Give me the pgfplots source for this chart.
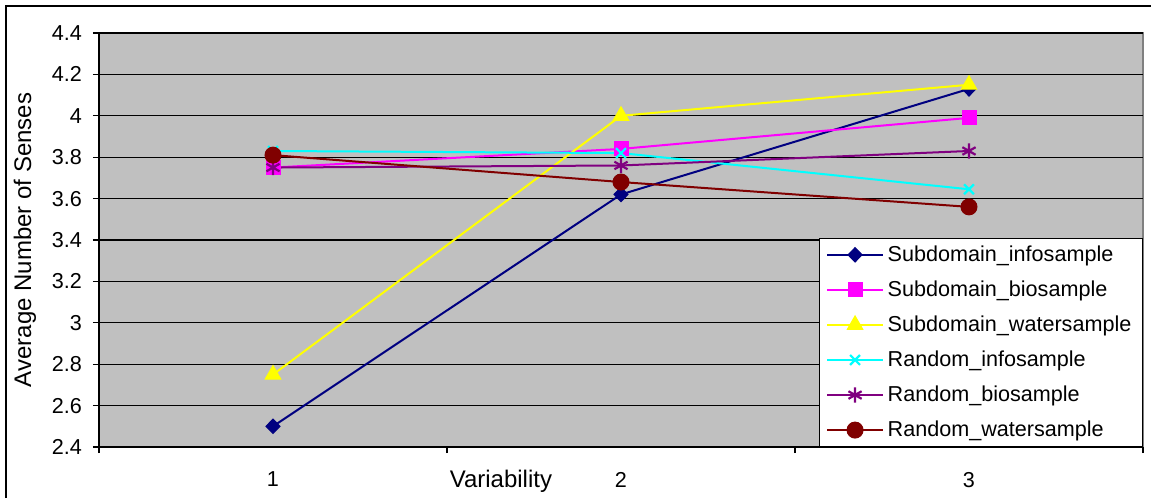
\documentclass[border=0pt]{standalone}
\usepackage{pgfplots}
\pgfplotsset{compat=1.18}
\usepackage{fontspec}
\setmainfont{Liberation Sans}
\definecolor{bgc}{HTML}{C0C0C0}
\definecolor{cnavy}{HTML}{000080}
\definecolor{cmag}{HTML}{FF00FF}
\definecolor{cyel}{HTML}{FFFF00}
\definecolor{ccyan}{HTML}{00FFFF}
\definecolor{cpurp}{HTML}{800080}
\definecolor{cdred}{HTML}{800000}
\definecolor{bord}{HTML}{808080}
\begin{document}
\begin{tikzpicture}
\path[use as bounding box] (0pt,0pt) rectangle (575.5pt,249pt);
\draw[black, line width=0.8pt] (3pt,0pt) -- (3pt,246pt) -- (575.5pt,246pt);
\begin{axis}[
  at={(49.5pt,25.5pt)}, anchor=south west,
  scale only axis, width=522pt, height=207pt,
  xmin=0.5, xmax=3.5, ymin=2.4, ymax=4.4,
  axis background/.style={fill=bgc, draw=bord, line width=0.8pt},
  axis x line*=bottom, axis y line*=left,
  axis line style={black, line width=0.7pt, -},
  ytick={2.4,2.6,...,4.41},
  ymajorgrids, grid style={black, line width=0.6pt},
  tick align=outside, major tick length=3pt,
  tick style={black, line width=0.6pt},
  xtick={0.5,1.5,2.5,3.5}, xticklabels={},
  extra x ticks={1,2,3}, extra x tick labels={1,2,3},
  extra x tick style={major tick length=0pt, grid=none,
     xticklabel style={yshift=-9pt}},
  font=\fontsize{12}{14}\selectfont,
  ticklabel style={font=\fontsize{10.8}{12}\selectfont},
  /pgf/number format/assume math mode=true,
  yticklabel style={xshift=-2pt},
  xlabel={Variability},
  xlabel style={at={(axis description cs:0.385,-0.082)}, anchor=center},
  ylabel={Average Number of Senses},
  ylabel style={at={(axis description cs:-0.0709,0.5)}, anchor=center},
  legend style={at={(1,0)}, anchor=south east, draw=black, fill=white,
     line width=0.6pt, font=\fontsize{10.8}{12}\selectfont,
     row sep=4.2pt, inner xsep=3.5pt, inner ysep=1.5pt, cells={anchor=west}},
  legend cell align=left,
  legend image code/.code={\draw[mark repeat=2,mark phase=2,#1] plot coordinates {(0cm,0cm) (0.485cm,0cm) (0.97cm,0cm)};},
  every axis plot/.append style={line width=1pt},
]
\addplot[cnavy, mark=diamond*, mark size=3.6pt, mark options={fill=cnavy, draw=cnavy, line width=0.5pt, xscale=1.3}] coordinates {(1,2.5) (2,3.62) (3,4.13)};
\addlegendentry{Subdomain\_infosample}
\addplot[cmag, mark=square*, mark size=3.5pt, mark options={fill=cmag, draw=cmag, line width=0.5pt}] coordinates {(1,3.75) (2,3.84) (3,3.99)};
\addlegendentry{Subdomain\_biosample}
\addplot[cyel, mark=triangle*, mark size=4.5pt, mark options={fill=cyel, draw=cyel, line width=0.5pt}] coordinates {(1,2.75) (2,4.0) (3,4.15)};
\addlegendentry{Subdomain\_watersample}
\addplot[ccyan, mark=x, mark size=3.5pt, mark options={draw=ccyan, line width=1.1pt}] coordinates {(1,3.83) (2,3.82) (3,3.645)};
\addlegendentry{Random\_infosample}
\addplot[cpurp, mark=asterisk, mark size=3.8pt, mark options={draw=cpurp, line width=1.1pt}] coordinates {(1,3.75) (2,3.76) (3,3.83)};
\addlegendentry{Random\_biosample}
\addplot[cdred, mark=*, mark size=4pt, mark options={fill=cdred, draw=cdred, line width=0.5pt}] coordinates {(1,3.81) (2,3.68) (3,3.56)};
\addlegendentry{Random\_watersample}
\end{axis}
\end{tikzpicture}
\end{document}
